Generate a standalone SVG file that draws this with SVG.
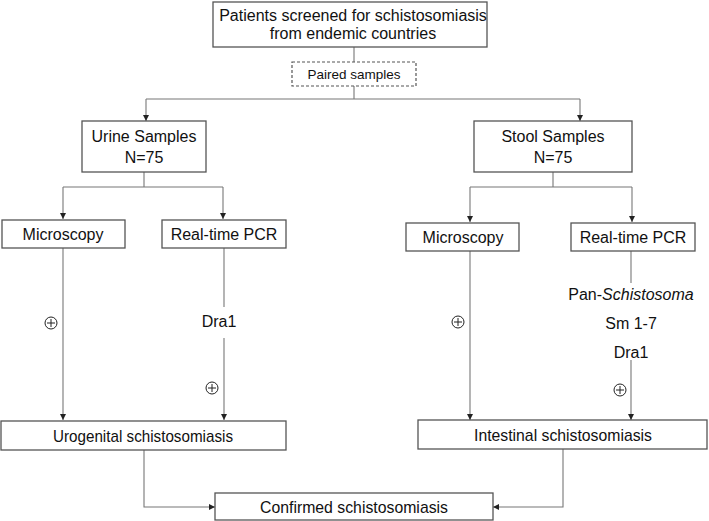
<svg xmlns="http://www.w3.org/2000/svg" width="709" height="521" viewBox="0 0 709 521">
<defs>
<marker id="ah" viewBox="0 0 10 10" refX="10" refY="5" markerWidth="7" markerHeight="6" markerUnits="userSpaceOnUse" orient="auto">
<path d="M0,0 L10,5 L0,10 z" fill="#222"/>
</marker>
<g id="plus">
<circle cx="0" cy="0" r="6" fill="none" stroke="#222" stroke-width="1"/>
<path d="M-4,0 H4 M0,-4 V4" stroke="#222" stroke-width="1"/>
</g>
</defs>
<style>
.box{fill:#fff;stroke:#555;stroke-width:1.3}
.dash{fill:#fff;stroke:#555;stroke-width:1.2;stroke-dasharray:3,2}
.t{font-family:"Liberation Sans",Arial,sans-serif;font-size:16px;fill:#111;text-anchor:middle}
.s{font-size:13.5px}
.n{font-size:17px}
.ln{fill:none;stroke:#777;stroke-width:1.1}
.ar{fill:none;stroke:#777;stroke-width:1.1;marker-end:url(#ah)}
</style>
<rect width="709" height="521" fill="#fff"/>
<g id="connectors">
<path class="ln" d="M354,47 V62 M354,86 V99 M146,99 H580"/>
<path class="ar" d="M146,99 V121"/>
<path class="ar" d="M580,99 V121"/>
<path class="ln" d="M144,172 V187 M63,187 H223"/>
<path class="ar" d="M63,187 V219"/>
<path class="ar" d="M223,187 V219"/>
<path class="ln" d="M553,172 V187 M470,187 H632"/>
<path class="ar" d="M470,187 V222"/>
<path class="ar" d="M632,187 V222"/>
<path class="ar" d="M63,248 V420"/>
<path class="ln" d="M224,248 V307"/>
<path class="ar" d="M224,338 V420"/>
<path class="ar" d="M470,251 V420"/>
<path class="ln" d="M631,251 V283"/>
<path class="ar" d="M631,360 V420"/>
<path class="ar" d="M144,450 V507 H215"/>
<path class="ar" d="M563,449 V507 H493"/>
<use href="#plus" x="51" y="323"/>
<use href="#plus" x="212" y="388"/>
<use href="#plus" x="458" y="322"/>
<use href="#plus" x="620" y="390"/>
<text class="t" x="219" y="327">Dra1</text>
<text class="t" x="631" y="300">Pan-<tspan font-style="italic">Schistosoma</tspan></text>
<text class="t" x="631" y="329">Sm 1-7</text>
<text class="t" x="631" y="358">Dra1</text>
</g>
<g id="patients">
<rect class="box" x="213" y="2" width="274" height="45"/>
<text class="t" x="353" y="21">Patients screened for schistosomiasis</text>
<text class="t" x="353" y="38.5">from endemic countries</text>
</g>
<g id="paired">
<rect class="dash" x="292" y="62" width="124" height="24"/>
<text class="t s" x="354" y="79">Paired samples</text>
</g>
<g id="urine">
<rect class="box" x="82" y="121" width="124" height="51"/>
<text class="t" x="144" y="142">Urine Samples</text>
<text class="t" x="144" y="163">N=75</text>
</g>
<g id="stool">
<rect class="box" x="474" y="121" width="158" height="51"/>
<text class="t" x="553" y="142">Stool Samples</text>
<text class="t" x="553" y="163">N=75</text>
</g>
<g id="micro1">
<rect class="box" x="2" y="220" width="123" height="28"/>
<text class="t" x="63" y="240">Microscopy</text>
</g>
<g id="pcr1">
<rect class="box" x="162" y="220" width="124" height="28"/>
<text class="t" x="224" y="240">Real-time PCR</text>
</g>
<g id="micro2">
<rect class="box" x="406" y="223" width="113" height="28"/>
<text class="t" x="463" y="243">Microscopy</text>
</g>
<g id="pcr2">
<rect class="box" x="571" y="223" width="124" height="28"/>
<text class="t" x="633" y="243">Real-time PCR</text>
</g>
<g id="urogenital">
<rect class="box" x="1" y="421" width="285" height="29"/>
<text class="t n" x="143" y="441.5" textLength="180" lengthAdjust="spacingAndGlyphs">Urogenital schistosomiasis</text>
</g>
<g id="intestinal">
<rect class="box" x="418" y="420" width="289" height="29"/>
<text class="t n" x="563" y="440.5" textLength="178" lengthAdjust="spacingAndGlyphs">Intestinal schistosomiasis</text>
</g>
<g id="confirmed">
<rect class="box" x="215" y="493" width="278" height="27"/>
<text class="t n" x="354" y="512.5" textLength="188" lengthAdjust="spacingAndGlyphs">Confirmed schistosomiasis</text>
</g>
</svg>
